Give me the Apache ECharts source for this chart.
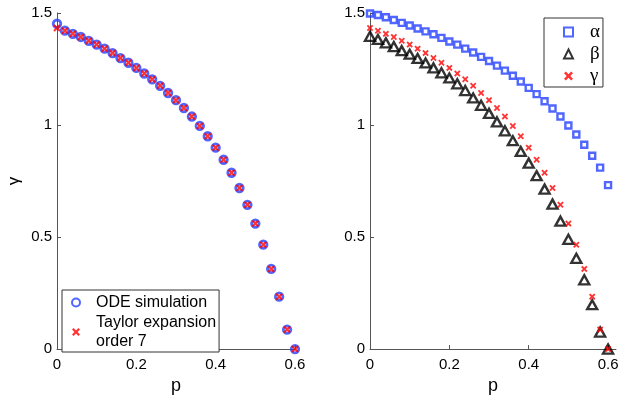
<!DOCTYPE html>
<html>
<head>
<meta charset="utf-8">
<script src="https://cdn.jsdelivr.net/npm/echarts@6/dist/echarts.min.js"></script>
<style>
html,body{margin:0;padding:0;background:#fff;}
#c{width:623px;height:400px;}
</style>
</head>
<body>
<div id="c"></div>
<script>
// ---- data ----
var pValues = [0, 0.02, 0.04, 0.06, 0.08, 0.10, 0.12, 0.14, 0.16, 0.18, 0.20,
  0.22, 0.24, 0.26, 0.28, 0.30, 0.32, 0.34, 0.36, 0.38, 0.40,
  0.42, 0.44, 0.46, 0.48, 0.50, 0.52, 0.54, 0.56, 0.58, 0.60];
var odeGamma = [1.452, 1.421, 1.407, 1.393, 1.376, 1.359, 1.341, 1.321, 1.299, 1.278, 1.255,
  1.230, 1.204, 1.175, 1.143, 1.111, 1.076, 1.038, 0.996, 0.950, 0.899,
  0.845, 0.787, 0.719, 0.644, 0.560, 0.466, 0.358, 0.234, 0.087, 0.0];
var taylorGamma = [1.433, 1.421, 1.407, 1.393, 1.376, 1.359, 1.341, 1.321, 1.299, 1.278, 1.255,
  1.230, 1.204, 1.175, 1.143, 1.111, 1.076, 1.038, 0.996, 0.950, 0.899,
  0.845, 0.787, 0.719, 0.644, 0.560, 0.466, 0.358, 0.234, 0.087, 0.0];
var alphaVals = [1.498, 1.491, 1.481, 1.469, 1.456, 1.444, 1.431, 1.418, 1.405, 1.389, 1.373,
  1.359, 1.341, 1.324, 1.304, 1.286, 1.265, 1.243, 1.220, 1.194, 1.166,
  1.138, 1.106, 1.074, 1.038, 0.998, 0.958, 0.912, 0.863, 0.810, 0.732];
var betaVals = [1.396, 1.382, 1.367, 1.350, 1.332, 1.316, 1.297, 1.277, 1.255, 1.233, 1.210,
  1.184, 1.154, 1.121, 1.088, 1.052, 1.014, 0.974, 0.930, 0.882, 0.830,
  0.774, 0.714, 0.647, 0.571, 0.490, 0.405, 0.309, 0.198, 0.076, 0.0];
var gammaVals = [1.433, 1.421, 1.407, 1.393, 1.376, 1.359, 1.341, 1.321, 1.299, 1.278, 1.255,
  1.230, 1.204, 1.175, 1.143, 1.111, 1.076, 1.038, 0.996, 0.950, 0.899,
  0.845, 0.787, 0.719, 0.644, 0.560, 0.466, 0.358, 0.234, 0.087, 0.0];
var xTicks = [0, 0.2, 0.4, 0.6];
var yTicks = [0, 0.5, 1, 1.5];
var leftNames = ['ODE simulation', 'Taylor expansion\norder 7'];
var rightNames = ['\u03b1', '\u03b2', '\u03b3'];

function pairs(xs, ys) { return xs.map(function (x, i) { return [x, ys[i]]; }); }

var BLUE = '#2440ff', RED = '#ff0000', BLACK = '#000000', AXIS = '#555555';
var XPATH = 'path://M0,2L2,0L5,3L8,0L10,2L7,5L10,8L8,10L5,7L2,10L0,8L3,5Z';
var SANS = 'Liberation Sans';

function xAxisDef(gi, max) {
  return {
    type: 'value', gridIndex: gi, min: 0, max: max,
    name: 'p', nameLocation: 'middle', nameGap: 23,
    nameTextStyle: { fontFamily: SANS, fontSize: 18, color: '#000' },
    axisLine: { show: true, onZero: false, lineStyle: { color: AXIS, width: 1 } },
    axisTick: { show: true, inside: true, length: 4, customValues: xTicks, lineStyle: { color: AXIS } },
    axisLabel: { customValues: xTicks, margin: 8, fontFamily: SANS, fontSize: 15, color: '#000' },
    splitLine: { show: false }
  };
}
function yAxisDef(gi, withName) {
  return {
    type: 'value', gridIndex: gi, min: 0, max: 1.5,
    name: withName ? '\u03b3' : '', nameLocation: 'middle', nameGap: 34, nameRotate: 90,
    nameTextStyle: { fontFamily: SANS, fontSize: 17, color: '#000' },
    axisLine: { show: true, onZero: false, lineStyle: { color: AXIS, width: 1 } },
    axisTick: { show: true, inside: true, length: 4, customValues: yTicks, lineStyle: { color: AXIS } },
    axisLabel: { customValues: yTicks, margin: 5, fontFamily: SANS, fontSize: 15, color: '#000' },
    splitLine: { show: false }
  };
}

var chart = echarts.init(document.getElementById('c'), null, { renderer: 'canvas' });
chart.setOption({
  animation: false,
  backgroundColor: '#fff',
  grid: [
    { left: 57, top: 13, width: 238, height: 343 },
    { left: 370, top: 13, width: 246, height: 343 }
  ],
  xAxis: [xAxisDef(0, 0.6), xAxisDef(1, 0.62)],
  yAxis: [yAxisDef(0, true), yAxisDef(1, false)],
  legend: [
    {
      data: leftNames, orient: 'vertical', left: 62, top: 290,
      padding: [3, 3, 1, 9], itemGap: 1, itemWidth: 30, itemHeight: 8,
      borderColor: '#333', borderWidth: 1, backgroundColor: '#fff',
      textStyle: { fontFamily: SANS, fontSize: 16, lineHeight: 19, color: '#000' }
    },
    {
      data: rightNames, orient: 'vertical', left: 544, top: 18,
      padding: [3, 3, 0, 19], itemGap: 0, itemWidth: 9, itemHeight: 9,
      borderColor: '#333', borderWidth: 1, backgroundColor: '#fff',
      textStyle: { fontFamily: 'Liberation Serif', fontSize: 19, lineHeight: 22, color: '#000', padding: [0, 0, 0, 12] }
    }
  ],
  series: [
    { name: leftNames[0], type: 'scatter', xAxisIndex: 0, yAxisIndex: 0, data: pairs(pValues, odeGamma),
      symbol: 'circle', symbolSize: 7.5,
      itemStyle: { color: 'rgba(0,0,0,0)', borderColor: BLUE, borderWidth: 2.8 } },
    { name: leftNames[1], type: 'scatter', xAxisIndex: 0, yAxisIndex: 0, data: pairs(pValues, taylorGamma),
      symbol: XPATH, symbolSize: 7.5, itemStyle: { color: RED } },
    { name: rightNames[0], type: 'scatter', xAxisIndex: 1, yAxisIndex: 1, data: pairs(pValues, alphaVals),
      symbol: 'rect', symbolSize: 6,
      itemStyle: { color: 'rgba(0,0,0,0)', borderColor: BLUE, borderWidth: 2.4 } },
    { name: rightNames[1], type: 'scatter', xAxisIndex: 1, yAxisIndex: 1, data: pairs(pValues, betaVals),
      symbol: 'triangle', symbolSize: [10, 9],
      itemStyle: { color: 'rgba(0,0,0,0)', borderColor: BLACK, borderWidth: 2.4 } },
    { name: rightNames[2], type: 'scatter', xAxisIndex: 1, yAxisIndex: 1, data: pairs(pValues, gammaVals),
      symbol: XPATH, symbolSize: 6.5, itemStyle: { color: RED } }
  ]
});
</script>
</body>
</html>
